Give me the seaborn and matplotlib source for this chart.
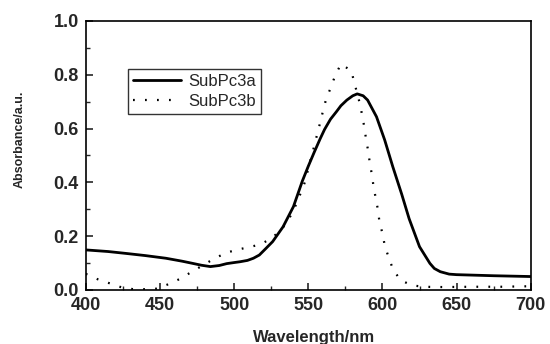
import numpy as np
import pandas as pd
import matplotlib
matplotlib.use("Agg")
import matplotlib.pyplot as plt
from matplotlib.ticker import MultipleLocator
import seaborn as sns

# SubPc3a (solid)
wl_a = [400, 415, 427, 440, 454, 465, 472, 478, 484, 490, 495, 500, 504, 509, 513,
        517, 521, 526, 533, 540, 546, 550, 554, 558, 561, 565, 569, 572, 576, 580,
        583, 587, 590, 596, 601.5, 607, 613, 618, 625, 632, 635, 639, 645, 650, 675,
        700]
abs_a = [0.149, 0.143, 0.136, 0.128, 0.118, 0.107, 0.099, 0.092, 0.087, 0.091, 0.098,
         0.102, 0.105, 0.110, 0.118, 0.130, 0.152, 0.180, 0.235, 0.310, 0.405, 0.460,
         0.512, 0.562, 0.597, 0.635, 0.663, 0.685, 0.706, 0.722, 0.729, 0.722, 0.706,
         0.644, 0.558, 0.458, 0.356, 0.265, 0.161, 0.099, 0.080, 0.068, 0.059, 0.057,
         0.053, 0.050]

# SubPc3b (dotted)
wl_b = [400, 408, 416, 424, 432, 440, 448, 455, 463, 471, 479, 487, 495, 503, 510,
        518, 526, 533, 538, 542, 545, 548, 550, 554, 556, 558, 560, 562, 565, 568,
        572, 579, 581, 585, 586.5, 588, 589, 590.5, 591.5, 593, 594, 595.5, 597, 598,
        600, 601.5, 604, 607, 612, 620, 628, 636, 644, 660, 680, 700]
abs_b = [0.060, 0.040, 0.025, 0.010, 0.003, 0.003, 0.005, 0.020, 0.040, 0.066, 0.092,
         0.118, 0.139, 0.151, 0.159, 0.170, 0.195, 0.233, 0.275, 0.320, 0.362, 0.405,
         0.452, 0.535, 0.579, 0.622, 0.667, 0.709, 0.750, 0.795, 0.840, 0.815, 0.772,
         0.688, 0.644, 0.599, 0.558, 0.514, 0.471, 0.426, 0.384, 0.341, 0.297, 0.253,
         0.211, 0.167, 0.124, 0.079, 0.037, 0.017, 0.012, 0.011, 0.011, 0.012, 0.012,
         0.014]

xticks = [400, 450, 500, 550, 600, 650, 700]
yticks = [0.0, 0.2, 0.4, 0.6, 0.8, 1.0]

sns.set_style("ticks")
plt.rcParams['font.family'] = ['Liberation Sans', 'DejaVu Sans']

fig = plt.figure(figsize=(5.5, 3.44), dpi=100)
ax = fig.add_axes([0.156, 0.157, 0.809, 0.782])

df_a = pd.DataFrame({"wl": wl_a, "abs": abs_a})
df_b = pd.DataFrame({"wl": wl_b, "abs": abs_b})
sns.lineplot(data=df_a, x="wl", y="abs", ax=ax, color="black", lw=2.0, label="SubPc3a")
sns.lineplot(data=df_b, x="wl", y="abs", ax=ax, color="black", lw=1.6,
             linestyle=(0, (0.8, 4.6)), label="SubPc3b")
for ln in ax.get_lines():
    ln.set_solid_joinstyle("round")

ax.set_xlim(400, 700)
ax.set_ylim(0, 1.0)
ax.set_xticks(xticks)
ax.set_yticks(yticks)
ax.set_xticklabels([str(t) for t in xticks], fontweight="bold", fontsize=13)
ax.set_yticklabels([f"{t:.1f}" for t in yticks], fontweight="bold", fontsize=13)
ax.xaxis.set_minor_locator(MultipleLocator(25))
ax.yaxis.set_minor_locator(MultipleLocator(0.1))
ax.tick_params(which="major", direction="in", length=5, width=1.2, pad=5)
ax.tick_params(which="minor", direction="in", length=3, width=1.0)
for s in ax.spines.values():
    s.set_linewidth(1.2)
    s.set_color("black")

ax.set_xlabel("Wavelength/nm", fontweight="bold", fontsize=12)
ax.set_ylabel("Absorbance/a.u.", fontweight="bold", fontsize=9)
ax.xaxis.set_label_coords(0.512, -0.148)
ax.yaxis.set_label_coords(-0.135, 0.561)

leg = ax.legend(loc="upper left", bbox_to_anchor=(0.095, 0.822), frameon=True,
                fancybox=False, edgecolor="black", fontsize=12, handlelength=2.9,
                borderpad=0.3, labelspacing=0.32, handletextpad=0.4, borderaxespad=0)
leg.get_frame().set_linewidth(1.0)

fig.savefig("out.png", dpi=100)
